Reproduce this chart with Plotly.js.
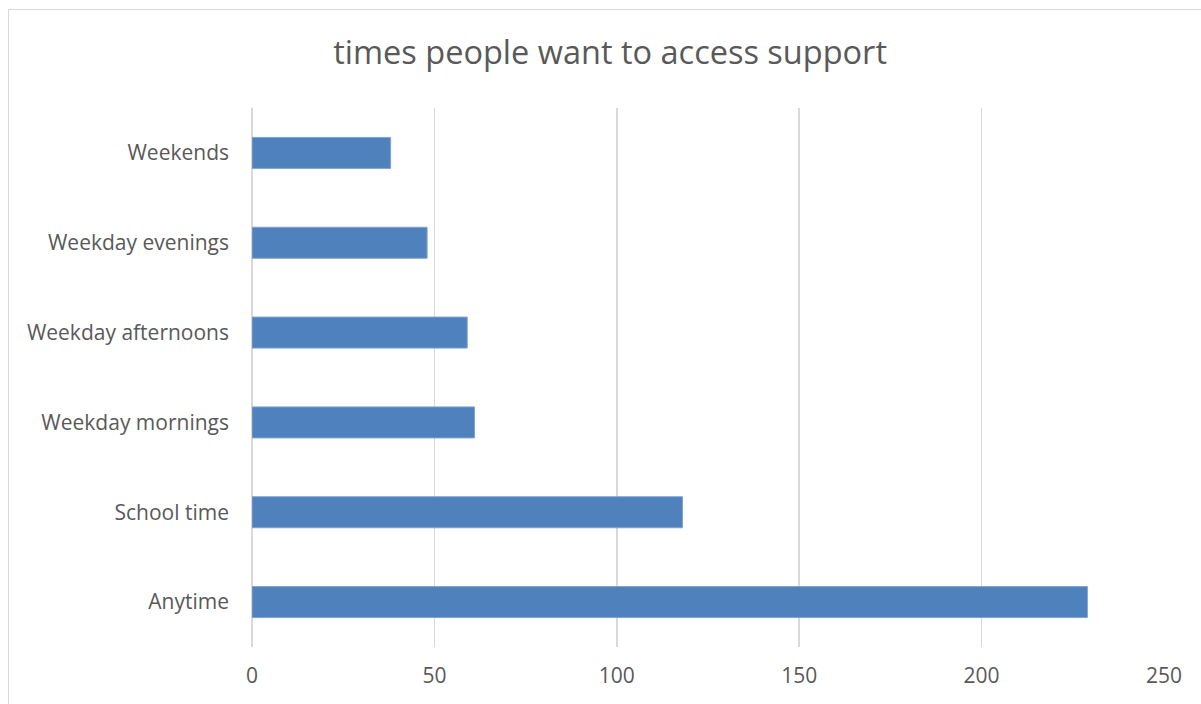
<!DOCTYPE html>
<html>
<head>
<meta charset="utf-8">
<script src="https://cdn.plot.ly/plotly-3.0.1.min.js"></script>
<style>
html,body{margin:0;padding:0;background:#fff;}
#frame{position:absolute;left:8px;top:9px;width:1200px;height:700px;border:1px solid #d9d9d9;box-sizing:border-box;pointer-events:none;z-index:5;}
#chart{position:absolute;left:0;top:0;width:1201px;height:704px;}
</style>
</head>
<body>
<div id="chart"></div>
<div id="frame"></div>
<script>
const categories = ["Anytime", "School time", "Weekday mornings", "Weekday afternoons", "Weekday evenings", "Weekends"];
const values = [229, 118, 61, 59, 48, 38];
const xTicks = [0, 50, 100, 150, 200, 250];
const chartTitle = "times people want to access support";

const FONT = "Open Sans, Calibri, sans-serif";
const trace = {
  type: "bar",
  orientation: "h",
  y: categories,
  x: values,
  marker: {color: "#4f81bd", line: {color: "#7ea3d0", width: 1}},
  hoverinfo: "skip"
};
const layout = {
  width: 1201,
  height: 704,
  paper_bgcolor: "#ffffff",
  plot_bgcolor: "#ffffff",
  margin: {l: 252, r: 37, t: 108, b: 57, pad: 0},
  bargap: 0.655,
  showlegend: false,
  title: {
    text: chartTitle,
    font: {family: FONT, size: 32.5, color: "#595959"},
    x: 0.508, xanchor: "center",
    y: 0.925, yanchor: "middle"
  },
  xaxis: {
    range: [0, 250],
    tickvals: xTicks,
    ticktext: xTicks.map(String),
    showgrid: true,
    gridcolor: "#d9d9d9",
    gridwidth: 1.5,
    zeroline: true,
    zerolinecolor: "#d9d9d9",
    zerolinewidth: 1.5,
    showline: false,
    ticks: "",
    ticklabelstandoff: 14,
    tickfont: {family: FONT, size: 21, color: "#595959"},
    fixedrange: true
  },
  yaxis: {
    categoryorder: "array",
    categoryarray: categories,
    showgrid: false,
    zeroline: false,
    showline: false,
    ticks: "",
    ticklabelstandoff: 22,
    tickfont: {family: FONT, size: 21, color: "#595959"},
    fixedrange: true
  }
};
Plotly.newPlot("chart", [trace], layout, {displayModeBar: false, staticPlot: true});
</script>
</body>
</html>
